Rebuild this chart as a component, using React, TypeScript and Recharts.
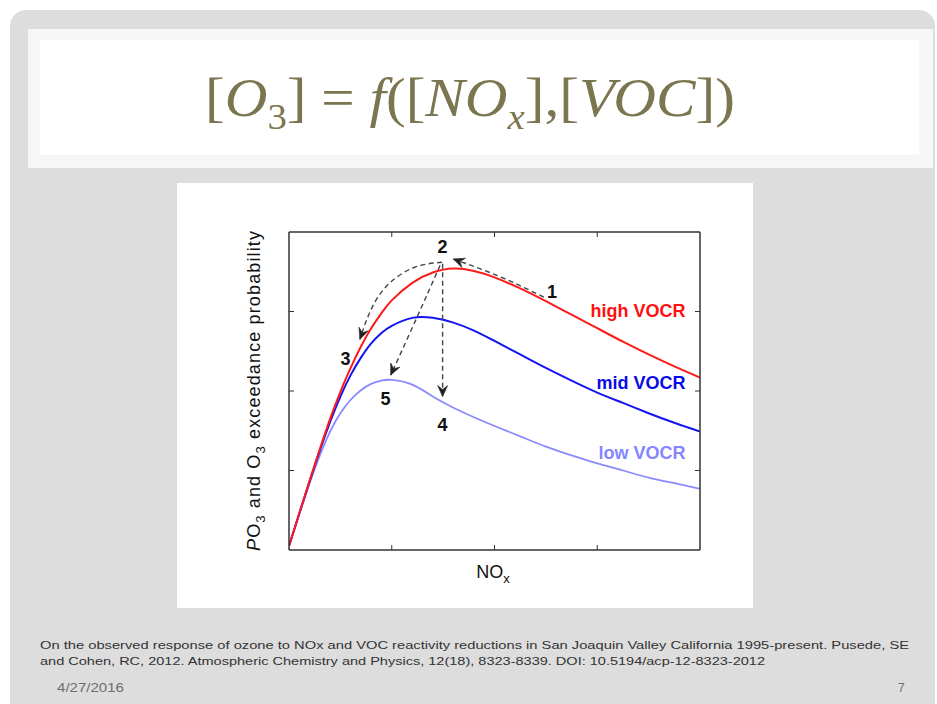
import React from 'react';
import { LineChart, Line, XAxis, YAxis, ReferenceDot } from 'recharts';

// ---- data (normalized axis units 0..4) ----
const noxX = [0, 0.1, 0.2, 0.3, 0.4, 0.5, 0.6, 0.7, 0.8, 0.9, 1.0, 1.2, 1.4, 1.6, 1.8, 2.0, 2.25, 2.5, 2.75, 3.0, 3.25, 3.5, 3.75, 4.0];
const highVOCR = [0.05, 0.46, 0.87, 1.27, 1.65, 1.99, 2.29, 2.56, 2.79, 2.98, 3.14, 3.36, 3.49, 3.54, 3.51, 3.43, 3.29, 3.13, 2.96, 2.79, 2.62, 2.46, 2.31, 2.17];
const midVOCR = [0.05, 0.46, 0.86, 1.25, 1.61, 1.93, 2.2, 2.42, 2.6, 2.73, 2.82, 2.92, 2.92, 2.86, 2.76, 2.63, 2.46, 2.29, 2.13, 1.98, 1.85, 1.72, 1.6, 1.49];
const lowVOCR = [0.05, 0.45, 0.84, 1.19, 1.49, 1.72, 1.89, 2.01, 2.09, 2.13, 2.14, 2.08, 1.93, 1.79, 1.67, 1.56, 1.43, 1.3, 1.19, 1.09, 1.0, 0.91, 0.84, 0.77];

const xTicks = [1, 2, 3];
const yTicks = [1, 2, 3];

const path12 = [{ x: 2.48, y: 3.18 }, { x: 2.05, y: 3.44 }, { x: 1.6, y: 3.66 }];
const path23 = [{ x: 1.49, y: 3.62 }, { x: 1.21, y: 3.55 }, { x: 0.95, y: 3.32 }, { x: 0.79, y: 3.0 }, { x: 0.69, y: 2.65 }];
const path24 = [{ x: 1.495, y: 3.6 }, { x: 1.495, y: 1.93 }];
const path25 = [{ x: 1.47, y: 3.58 }, { x: 1.25, y: 2.94 }, { x: 0.99, y: 2.2 }];

const stepLabels = [
  { text: '1', x: 2.56, y: 3.245 },
  { text: '2', x: 1.495, y: 3.81 },
  { text: '3', x: 0.55, y: 2.41 },
  { text: '4', x: 1.495, y: 1.575 },
  { text: '5', x: 0.94, y: 1.91 },
];
const curveLabels = [
  { text: 'high VOCR', x: 3.86, y: 3.015, color: '#ff1010' },
  { text: 'mid VOCR', x: 3.86, y: 2.11, color: '#0a0ae8' },
  { text: 'low VOCR', x: 3.86, y: 1.23, color: '#8585ff' },
];

const footer1 = 'On the observed response of ozone to NOx and VOC reactivity reductions in San Joaquin Valley California 1995-present.  Pusede, SE';
const footer2 = 'and Cohen, RC, 2012.  Atmospheric Chemistry and Physics, 12(18), 8323-8339.   DOI: 10.5194/acp-12-8323-2012';

const chartData = noxX.map((x, i) => ({ x, high: highVOCR[i], mid: midVOCR[i], low: lowVOCR[i] }));

// ---- layout ----
const CW = 576;
const CH = 425;
const M = { top: 48, right: 52, bottom: 57, left: 111 };
const AX = 1; // axis thickness reserved
const PW = CW - M.left - M.right - 2 * AX;
const PH = CH - M.top - M.bottom - 2 * AX;
const PXU = PW / 4;
const PYU = PH / 4;
const FRAME = '#333333';
const SANS = 'Liberation Sans, Arial, Helvetica, sans-serif';

const inTick = (side: string) => (props: any) => {
  const { x, y } = props;
  const L = 5;
  let x2 = x;
  let y2 = y;
  if (side === 'bottom') y2 = y - L;
  if (side === 'top') y2 = y + L;
  if (side === 'left') x2 = x + L;
  if (side === 'right') x2 = x - L;
  return <line x1={x} y1={y} x2={x2} y2={y2} stroke={FRAME} strokeWidth={1} />;
};

const arrowDot = (pts: { x: number; y: number }[]) => (props: any) => {
  const { cx, cy, index } = props;
  if (index !== pts.length - 1 || cx == null) return <g key={`n${index}`} />;
  const prev = pts[index - 1];
  const cur = pts[index];
  const ang = (Math.atan2(-(cur.y - prev.y) * PYU, (cur.x - prev.x) * PXU) * 180) / Math.PI;
  return (
    <path
      key={`a${index}`}
      d="M0,0 L-11,-5 L-7,0 L-11,5 Z"
      transform={`translate(${cx},${cy}) rotate(${ang})`}
      fill="#222"
      stroke="#222"
      strokeWidth={0.6}
    />
  );
};

const dashStyle = { stroke: '#444', strokeWidth: 1.4, strokeDasharray: '5 3.5' };
const axisLineStyle = { stroke: FRAME, strokeWidth: 1.5 };

export default function App() {
  return (
    <div style={{ position: 'fixed', left: 0, top: 0, width: 937, height: 704, background: '#ffffff', overflow: 'hidden' }}>
      <div style={{ position: 'absolute', left: 10, top: 10, width: 925, height: 740, background: '#dddddd', borderRadius: 16 }} />
      <div style={{ position: 'absolute', left: 28, top: 29, width: 905, height: 139, background: '#f6f6f6' }} />
      <div style={{ position: 'absolute', left: 40, top: 40, width: 879, height: 115, background: '#ffffff' }} />

      <svg style={{ position: 'absolute', left: 0, top: 0 }} width={937} height={180}>
        <text x={470} y={116} textAnchor="middle" fontSize={55} fill="#7b7650" fontFamily="Liberation Serif, DejaVu Serif, serif" textLength={530} lengthAdjust="spacingAndGlyphs">
          <tspan>[</tspan>
          <tspan fontStyle="italic">O</tspan>
          <tspan fontSize={36} dy={13}>3</tspan>
          <tspan dy={-13}>] = </tspan>
          <tspan fontStyle="italic">f</tspan>
          <tspan>([</tspan>
          <tspan fontStyle="italic">NO</tspan>
          <tspan fontStyle="italic" fontSize={36} dy={13}>x</tspan>
          <tspan dy={-13}>],[</tspan>
          <tspan fontStyle="italic">VOC</tspan>
          <tspan>])</tspan>
        </text>
      </svg>

      <div style={{ position: 'absolute', left: 177, top: 183, width: CW, height: CH, background: '#ffffff' }}>
        <LineChart width={CW} height={CH} data={chartData} margin={M}>
          <XAxis dataKey="x" type="number" domain={[0, 4]} ticks={xTicks} height={AX} allowDataOverflow
            axisLine={axisLineStyle} tickLine={false} tickSize={0} tickMargin={0} tick={inTick('bottom')} />
          <XAxis xAxisId="top" orientation="top" dataKey="x" type="number" domain={[0, 4]} ticks={xTicks} height={AX} allowDataOverflow
            axisLine={axisLineStyle} tickLine={false} tickSize={0} tickMargin={0} tick={inTick('top')} />
          <YAxis type="number" domain={[0, 4]} ticks={yTicks} width={AX} allowDataOverflow
            axisLine={axisLineStyle} tickLine={false} tickSize={0} tickMargin={0} tick={inTick('left')} />
          <YAxis yAxisId="right" orientation="right" type="number" domain={[0, 4]} ticks={yTicks} width={AX} allowDataOverflow
            axisLine={axisLineStyle} tickLine={false} tickSize={0} tickMargin={0} tick={inTick('right')} />

          <Line dataKey="low" type="natural" stroke="#8a8aff" strokeWidth={1.8} dot={false} activeDot={false} isAnimationActive={false} />
          <Line dataKey="mid" type="natural" stroke="#1414f0" strokeWidth={2} dot={false} activeDot={false} isAnimationActive={false} />
          <Line dataKey="high" type="natural" stroke="#ff1a1a" strokeWidth={2} dot={false} activeDot={false} isAnimationActive={false} />

          <Line data={path12} dataKey="y" type="natural" {...dashStyle} dot={arrowDot(path12)} activeDot={false} isAnimationActive={false} />
          <Line data={path23} dataKey="y" type="natural" {...dashStyle} dot={arrowDot(path23)} activeDot={false} isAnimationActive={false} />
          <Line data={path24} dataKey="y" type="linear" {...dashStyle} dot={arrowDot(path24)} activeDot={false} isAnimationActive={false} />
          <Line data={path25} dataKey="y" type="natural" {...dashStyle} dot={arrowDot(path25)} activeDot={false} isAnimationActive={false} />

          {stepLabels.map((s) => (
            <ReferenceDot key={s.text} x={s.x} y={s.y} r={0} fill="none" stroke="none"
              label={{ value: s.text, position: 'center', fill: '#111', fontSize: 18, fontWeight: 'bold', fontFamily: SANS }} />
          ))}
          {curveLabels.map((c) => (
            <ReferenceDot key={c.text} x={c.x} y={c.y} r={0} fill="none" stroke="none"
              label={{ value: c.text, position: 'left', offset: 0, fill: c.color, fontSize: 18, fontWeight: 'bold', fontFamily: SANS }} />
          ))}
        </LineChart>
        <svg style={{ position: 'absolute', left: 0, top: 0, pointerEvents: 'none' }} width={CW} height={CH}>
          <text x={316} y={395} textAnchor="middle" fontSize={18} fill="#111" fontFamily={SANS}>
            <tspan>NO</tspan>
            <tspan fontSize={13} dy={5}>x</tspan>
          </text>
          <text x={83} y={208} transform="rotate(-90 83 208)" textAnchor="middle" fontSize={18} fill="#111" fontFamily={SANS} textLength={320} lengthAdjust="spacing">
            <tspan fontStyle="italic">P</tspan>
            <tspan>O</tspan>
            <tspan fontSize={13} dy={5}>3</tspan>
            <tspan dy={-5}> and O</tspan>
            <tspan fontSize={13} dy={5}>3</tspan>
            <tspan dy={-5}> exceedance probability</tspan>
          </text>
        </svg>
      </div>

      <svg style={{ position: 'absolute', left: 0, top: 620 }} width={937} height={84}>
        <text x={40} y={29} fontSize={11} fill="#333" fontFamily={SANS} textLength={869} lengthAdjust="spacingAndGlyphs">{footer1}</text>
        <text x={40} y={45} fontSize={11} fill="#333" fontFamily={SANS} textLength={725} lengthAdjust="spacingAndGlyphs">{footer2}</text>
        <text x={57} y={72} fontSize={12} fill="#6d6d6d" fontFamily={SANS} textLength={67} lengthAdjust="spacingAndGlyphs">4/27/2016</text>
        <text x={898} y={72} fontSize={12} fill="#6d6d6d" fontFamily={SANS}>7</text>
      </svg>
    </div>
  );
}
